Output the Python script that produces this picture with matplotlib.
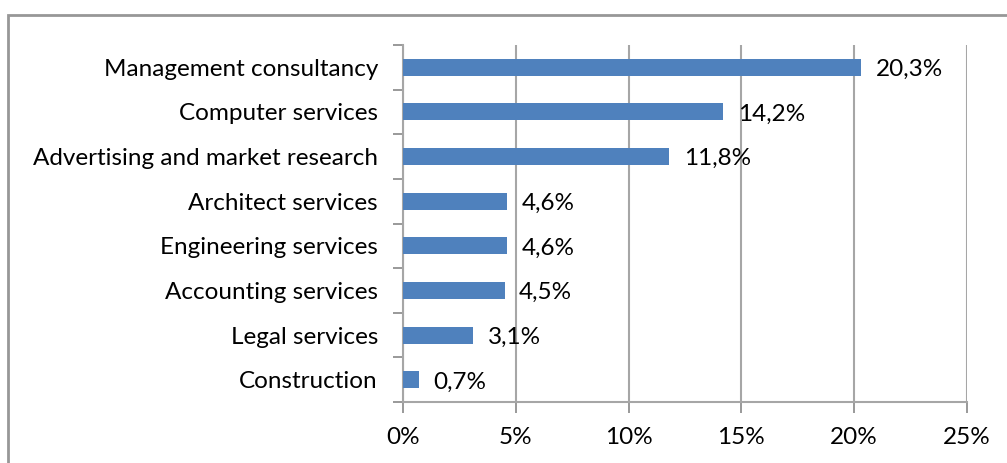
import matplotlib.pyplot as plt
from matplotlib.patches import Rectangle

# Data
categories = ['Management consultancy', 'Computer services', 'Advertising and market research',
              'Architect services', 'Engineering services', 'Accounting services',
              'Legal services', 'Construction']
values = [20.3, 14.2, 11.8, 4.6, 4.6, 4.5, 3.1, 0.7]
labels = ['20,3%', '14,2%', '11,8%', '4,6%', '4,6%', '4,5%', '3,1%', '0,7%']
xticks = [0, 5, 10, 15, 20, 25]

plt.rcParams['font.family'] = ['Lato', 'DejaVu Sans']
fs = 17.5

fig = plt.figure(figsize=(10.07, 4.63), dpi=100)
ax = fig.add_axes([403 / 1007, 1 - 402 / 463, 564 / 1007, 357 / 463])

# outer chart border (only top and left visible in the crop)
fig.patches.append(Rectangle((8 / 1007, -0.1), 1.1, 1 - 15 / 463 + 0.1,
                             transform=fig.transFigure, fill=False,
                             edgecolor='#979797', linewidth=2))

ypos = list(range(len(categories)))
ax.barh(ypos, values, height=0.38, color='#4F81BD', zorder=3)
for y, v, lab in zip(ypos, values, labels):
    ax.text(v + 0.65, y + 0.05, lab, va='center', ha='left', fontsize=fs, color='black', zorder=4)

ax.set_xlim(0, 25)
ax.set_ylim(len(categories) - 0.5, -0.5)
ax.set_xticks(xticks)
ax.set_xticklabels([f'{t}%' for t in xticks], fontsize=fs)
ax.set_yticks(ypos)
ax.set_yticklabels(categories, fontsize=fs)
ax.set_yticks([i - 0.5 for i in range(len(categories) + 1)], minor=True)

ax.tick_params(axis='y', which='major', length=0, pad=18)
ax.tick_params(axis='y', which='minor', length=7, color='#878787', width=1.2, direction='out')
ax.tick_params(axis='x', length=8, color='#878787', width=1.2, direction='out', pad=10)

ax.grid(axis='x', color='#A6A6A6', linewidth=1.5, zorder=0)
for side in ['top', 'right']:
    ax.spines[side].set_visible(False)
for side in ['left', 'bottom']:
    ax.spines[side].set_color('#A6A6A6')
    ax.spines[side].set_linewidth(1.5)

fig.savefig('out.png', dpi=100)
